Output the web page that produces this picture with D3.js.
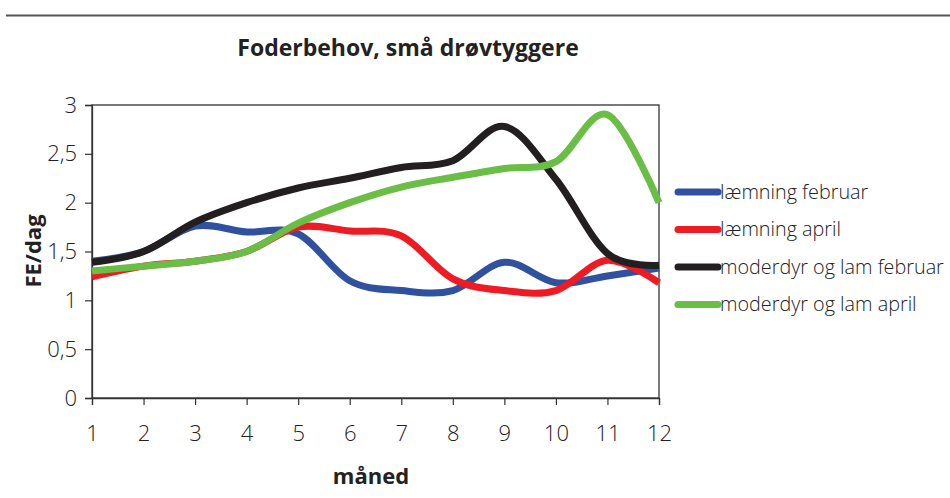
<!DOCTYPE html>
<html>
<head>
<meta charset="utf-8">
<script src="https://cdn.jsdelivr.net/npm/d3@7"></script>
<style>
  body { margin: 0; background: #fff; }
  svg { display: block; font-family: 'Open Sans', 'DejaVu Sans', sans-serif; }
</style>
</head>
<body>
<div id="chart"></div>
<script>
// Data ////////////////////////////////////////////////////////////////////
const months = [1, 2, 3, 4, 5, 6, 7, 8, 9, 10, 11, 12];
const yTicks = [0, 0.5, 1, 1.5, 2, 2.5, 3];

const laemning_februar = [1.4, 1.5, 1.76, 1.7, 1.68, 1.2, 1.1, 1.1, 1.39, 1.18, 1.25, 1.33];
const laemning_april   = [1.24, 1.35, 1.4, 1.5, 1.75, 1.71, 1.66, 1.22, 1.1, 1.1, 1.41, 1.18];
const moder_februar    = [1.39, 1.5, 1.8, 2.0, 2.15, 2.25, 2.36, 2.43, 2.78, 2.24, 1.48, 1.36];
const moder_april      = [1.3, 1.35, 1.4, 1.5, 1.79, 2.0, 2.16, 2.26, 2.35, 2.42, 2.9, 2.0];

const seriesNames  = ['læmning februar', 'læmning april', 'moderdyr og lam februar', 'moderdyr og lam april'];
const seriesValues = [laemning_februar, laemning_april, moder_februar, moder_april];
const seriesColors = ['#3050a0', '#ed1c24', '#231f20', '#6abd45'];

// SVG setup ///////////////////////////////////////////////////////////////
const width = 950, height = 498;
const margin = { top: 105, right: 291, bottom: 100, left: 92 };

const svg = d3.select('#chart').append('svg')
  .attr('width', width)
  .attr('height', height)
  .attr('viewBox', [0, 0, width, height]);

// top rule
svg.append('line')
  .attr('x1', 6).attr('x2', width)
  .attr('y1', 15.5).attr('y2', 15.5)
  .attr('stroke', '#555').attr('stroke-width', 2);

svg.append('text')
  .attr('x', 408).attr('y', 56)
  .attr('text-anchor', 'middle')
  .attr('font-size', 23).attr('font-weight', 'bold')
  .attr('fill', '#222')
  .text('Foderbehov, små drøvtyggere');

const x = d3.scaleLinear().domain([1, 12]).range([margin.left, width - margin.right]);
const y = d3.scaleLinear().domain([0, 3]).range([height - margin.bottom, margin.top]);

// plot frame
svg.append('rect')
  .attr('x', x(1)).attr('y', y(3))
  .attr('width', x(12) - x(1)).attr('height', y(0) - y(3))
  .attr('fill', 'none').attr('stroke', '#333').attr('stroke-width', 1.3);

// Axes ////////////////////////////////////////////////////////////////////
const xAxis = svg.append('g')
  .attr('transform', `translate(0,${y(0)})`)
  .call(d3.axisBottom(x).tickValues(months).tickSize(7).tickPadding(20).tickFormat(d3.format('d')));

const yAxis = svg.append('g')
  .attr('transform', `translate(${x(1)},0)`)
  .call(d3.axisLeft(y).tickValues(yTicks).tickSize(7).tickPadding(8)
    .tickFormat(d => String(d).replace('.', ',')));

[xAxis, yAxis].forEach(g => {
  g.select('.domain').attr('stroke', '#333').attr('stroke-width', 1.3);
  g.selectAll('.tick line').attr('stroke', '#333').attr('stroke-width', 1.2);
  g.selectAll('.tick text')
    .attr('font-size', 22).attr('fill', '#222')
    .attr('font-family', "'Open Sans', sans-serif").attr('font-weight', 300);
});

svg.append('text')
  .attr('x', 371).attr('y', 484)
  .attr('text-anchor', 'middle')
  .attr('font-size', 22).attr('font-weight', 'bold').attr('fill', '#222')
  .text('måned');

svg.append('text')
  .attr('transform', `translate(41,251) rotate(-90)`)
  .attr('text-anchor', 'middle')
  .attr('font-size', 22).attr('font-weight', 'bold').attr('fill', '#222')
  .text('FE/dag');

// Lines ///////////////////////////////////////////////////////////////////
const line = d3.line()
  .x((d, i) => x(months[i]))
  .y(d => y(d))
  .curve(d3.curveCardinal.tension(0));

svg.append('g')
  .selectAll('path')
  .data(seriesValues)
  .join('path')
  .attr('d', line)
  .attr('fill', 'none')
  .attr('stroke', (d, i) => seriesColors[i])
  .attr('stroke-width', 7)
  .attr('stroke-linejoin', 'round');

// Legend //////////////////////////////////////////////////////////////////
const legend = svg.append('g').attr('transform', 'translate(676,192)');
const rows = legend.selectAll('g')
  .data(seriesNames)
  .join('g')
  .attr('transform', (d, i) => `translate(0,${i * 37.5})`);

rows.append('line')
  .attr('x1', 2).attr('x2', 42)
  .attr('stroke', (d, i) => seriesColors[i])
  .attr('stroke-width', 7).attr('stroke-linecap', 'round');

rows.append('text')
  .attr('x', 44).attr('dy', '0.35em')
  .attr('font-size', 19.8).attr('font-weight', 300).attr('fill', '#222')
  .text(d => d);
</script>
</body>
</html>
